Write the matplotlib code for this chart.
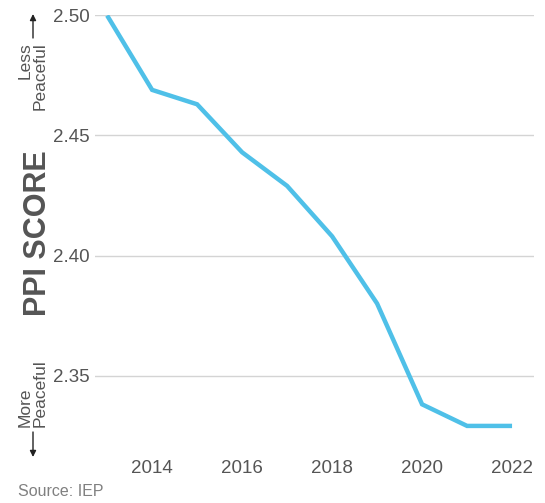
import matplotlib.pyplot as plt

plt.rcParams['font.family'] = ['Liberation Sans', 'DejaVu Sans']

# PPI score by year
years = [2013, 2014, 2015, 2016, 2017, 2018, 2019, 2020, 2021, 2022]
ppi = [2.500, 2.469, 2.463, 2.443, 2.429, 2.408, 2.380, 2.338, 2.329, 2.329]
xticks = [2014, 2016, 2018, 2020, 2022]
yticks = [2.35, 2.40, 2.45, 2.50]

fig = plt.figure(figsize=(5.45, 5.03), dpi=100)
ax = fig.add_axes([0.1743, 0.1103, 0.8057, 0.8589])

ax.plot(years, ppi, color='#4FC0E8', lw=3.2, solid_capstyle='butt',
        solid_joinstyle='miter', zorder=3)

ax.set_xlim(2012.73, 2022.49)
ax.set_ylim(2.32, 2.50)
ax.set_xticks(xticks)
ax.set_xticklabels([str(y) for y in xticks])
ax.set_yticks(yticks)
ax.set_yticklabels(['%.2f' % v for v in yticks])
ax.grid(axis='y', color='#d4d4d4', lw=1)
ax.set_axisbelow(True)
for s in ax.spines.values():
    s.set_visible(False)
ax.tick_params(axis='both', length=0, labelsize=13.5, labelcolor='#555555')
ax.tick_params(axis='x', pad=9)
ax.tick_params(axis='y', pad=4)

fig.text(38.5 / 545, 1 - 233 / 503, 'PPI SCORE', rotation=90, fontsize=22,
         fontweight='bold', color='#555555', ha='center', va='center')

# less / more peaceful hints
fig.text(0.06, 1 - 42 / 503, 'Less\nPeaceful', rotation=90, fontsize=12.5,
         color='#555555', ha='center', va='top', multialignment='right',
         linespacing=0.95)
fig.text(0.06, 1 - 427 / 503, 'More\nPeaceful', rotation=90, fontsize=12.5,
         color='#555555', ha='center', va='bottom', multialignment='left',
         linespacing=0.95)
ax.annotate('', xy=(33 / 545, 1 - 14 / 503), xytext=(33 / 545, 1 - 38 / 503),
            xycoords='figure fraction', textcoords='figure fraction',
            arrowprops=dict(arrowstyle='-|>', color='#222222', lw=1,
                            mutation_scale=9, shrinkA=0, shrinkB=0))
ax.annotate('', xy=(33 / 545, 1 - 457 / 503), xytext=(33 / 545, 1 - 432 / 503),
            xycoords='figure fraction', textcoords='figure fraction',
            arrowprops=dict(arrowstyle='-|>', color='#222222', lw=1,
                            mutation_scale=9, shrinkA=0, shrinkB=0))

fig.text(18 / 545, 1 - 492 / 503, 'Source: IEP', fontsize=11.5, color='#808080',
         ha='left', va='center')

fig.savefig('out.png', dpi=100)
